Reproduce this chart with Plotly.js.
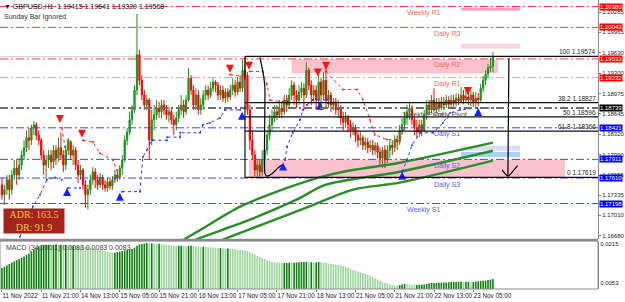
<!DOCTYPE html>
<html><head><meta charset="utf-8">
<script src="https://cdn.plot.ly/plotly-3.0.1.min.js"></script>
<style>html,body{margin:0;padding:0;background:#fff}#chart{width:625px;height:302px}</style>
</head><body><div id="chart"></div>
<script>
// ---------- DATA ----------
const tickBars = [0,16,32,48,64,80,96,112,128,144,160,176,192];
const tickLabels = ["11 Nov 2022","11 Nov 21:00","14 Nov 13:00","15 Nov 05:00","15 Nov 21:00","16 Nov 13:00","17 Nov 05:00","17 Nov 21:00","18 Nov 13:00","21 Nov 05:00","21 Nov 21:00","22 Nov 13:00","23 Nov 05:00"];

const opens = [1.1750,1.1734,1.1742,1.1758,1.1742,1.1766,1.1777,1.1766,1.1782,1.1798,
1.1810,1.1826,1.1822,1.1842,1.1847,1.1830,1.1822,1.1798,1.1782,1.1790,
1.1798,1.1787,1.1806,1.1793,1.1810,1.1798,1.1782,1.1806,1.1819,1.1798,
1.1806,1.1782,1.1766,1.1774,1.1750,1.1734,1.1742,1.1758,1.1771,1.1758,
1.1750,1.1762,1.1750,1.1745,1.1755,1.1748,1.1758,1.1766,1.1762,1.1777,
1.1790,1.1822,1.1835,1.1855,1.1871,1.1903,1.1960,1.1919,1.1895,1.1879,
1.1887,1.1822,1.1855,1.1863,1.1874,1.1868,1.1879,1.1871,1.1863,1.1868,
1.1855,1.1847,1.1858,1.1871,1.1879,1.1868,1.1887,1.1922,1.1903,1.1879,
1.1895,1.1871,1.1879,1.1895,1.1903,1.1895,1.1906,1.1916,1.1911,1.1895,
1.1903,1.1890,1.1900,1.1892,1.1903,1.1911,1.1900,1.1916,1.1906,1.1935,
1.1927,1.1871,1.1822,1.1798,1.1774,1.1782,1.1771,1.1790,1.1806,1.1830,
1.1847,1.1858,1.1868,1.1863,1.1874,1.1868,1.1887,1.1879,1.1895,1.1911,
1.1895,1.1887,1.1900,1.1906,1.1895,1.1935,1.1911,1.1895,1.1903,1.1887,
1.1916,1.1895,1.1919,1.1887,1.1895,1.1879,1.1884,1.1871,1.1874,1.1858,
1.1851,1.1858,1.1847,1.1838,1.1842,1.1830,1.1822,1.1826,1.1814,1.1819,
1.1810,1.1814,1.1806,1.1813,1.1803,1.1793,1.1806,1.1790,1.1806,1.1814,
1.1810,1.1822,1.1819,1.1838,1.1847,1.1858,1.1868,1.1874,1.1855,1.1842,
1.1835,1.1847,1.1838,1.1863,1.1879,1.1871,1.1887,1.1871,1.1882,1.1874,
1.1884,1.1879,1.1887,1.1880,1.1887,1.1882,1.1890,1.1885,1.1895,1.1887,
1.1892,1.1887,1.1895,1.1884,1.1890,1.1887,1.1906,1.1919,1.1929,1.1939,
1.19415];
const highs = [1.1762,1.1750,1.1766,1.1766,1.1774,1.1790,1.1790,1.1793,1.1806,1.1822,
1.1838,1.1842,1.1847,1.1853,1.1851,1.1838,1.1826,1.1806,1.1798,1.1806,
1.1806,1.1814,1.1814,1.1826,1.1835,1.1806,1.1814,1.1826,1.1822,1.1814,
1.1811,1.1790,1.1782,1.1777,1.1758,1.1750,1.1766,1.1779,1.1777,1.1766,
1.1769,1.1766,1.1758,1.1762,1.1762,1.1764,1.1774,1.1774,1.1782,1.1798,
1.1830,1.1842,1.1868,1.1879,1.1911,1.2026,1.1968,1.1927,1.1903,1.1895,
1.1890,1.1871,1.1879,1.1887,1.1884,1.1887,1.1887,1.1879,1.1876,1.1874,
1.1863,1.1868,1.1879,1.1895,1.1887,1.1895,1.1939,1.1927,1.1911,1.1906,
1.1903,1.1890,1.1903,1.1911,1.1910,1.1916,1.1922,1.1919,1.1916,1.1911,
1.1910,1.1906,1.1906,1.1911,1.1922,1.1919,1.1924,1.1927,1.1952,1.19574,
1.1932,1.1879,1.1838,1.1806,1.1790,1.1790,1.1806,1.1814,1.1838,1.1863,
1.1871,1.1879,1.1879,1.1887,1.1884,1.1895,1.1895,1.1906,1.1919,1.1916,
1.1903,1.1911,1.1916,1.1914,1.1948,1.1939,1.1919,1.1911,1.1911,1.1927,
1.1922,1.1932,1.1939,1.1903,1.1900,1.1890,1.1890,1.1887,1.1879,1.1868,
1.1868,1.1863,1.1855,1.1851,1.1847,1.1838,1.1835,1.1830,1.1827,1.1826,
1.1822,1.1822,1.1819,1.1818,1.1810,1.1811,1.1814,1.1814,1.1822,1.1822,
1.1830,1.1830,1.1847,1.1858,1.1868,1.1879,1.1884,1.1879,1.1863,1.1855,
1.1855,1.1855,1.1871,1.1887,1.1887,1.1895,1.1906,1.1890,1.1890,1.1892,
1.1892,1.1895,1.1893,1.1895,1.1895,1.1898,1.1897,1.1908,1.1903,1.1903,
1.1900,1.1903,1.1900,1.1900,1.1898,1.1913,1.1926,1.1935,1.1945,1.1955,
1.19641];
const lows = [1.1726,1.1718,1.1734,1.1726,1.1734,1.1758,1.1750,1.1758,1.1774,1.1790,
1.1803,1.1806,1.1814,1.1830,1.1822,1.1814,1.1790,1.1766,1.1758,1.1777,
1.1774,1.1777,1.1782,1.1787,1.1790,1.1771,1.1774,1.1798,1.1790,1.1782,
1.1774,1.1753,1.1758,1.1742,1.1713,1.1710,1.1734,1.1750,1.1745,1.1742,
1.1745,1.1742,1.1739,1.1739,1.1742,1.1742,1.1753,1.1755,1.1758,1.1766,
1.1787,1.1814,1.1830,1.1847,1.1866,1.1895,1.1911,1.1887,1.1871,1.1871,
1.1790,1.1814,1.1838,1.1855,1.1858,1.1858,1.1863,1.1855,1.1851,1.1847,
1.1830,1.1838,1.1851,1.1863,1.1858,1.1863,1.1884,1.1895,1.1871,1.1871,
1.1863,1.1863,1.1871,1.1887,1.1887,1.1890,1.1900,1.1900,1.1887,1.1887,
1.1884,1.1882,1.1884,1.1887,1.1895,1.1892,1.1895,1.1900,1.1900,1.1919,
1.1863,1.1806,1.1790,1.1764,1.17619,1.1763,1.1764,1.1774,1.1798,1.1822,
1.1838,1.1851,1.1855,1.1858,1.1858,1.1863,1.1868,1.1874,1.1887,1.1879,
1.1874,1.1879,1.1890,1.1871,1.1890,1.1903,1.1879,1.1884,1.1874,1.1880,
1.1871,1.1887,1.1874,1.1874,1.1868,1.1871,1.1863,1.1858,1.1847,1.1838,
1.1842,1.1835,1.1826,1.1830,1.1819,1.1811,1.1814,1.1806,1.1806,1.1801,
1.1803,1.1798,1.1798,1.1793,1.1782,1.1777,1.1777,1.1785,1.1793,1.1798,
1.1803,1.1806,1.1814,1.1830,1.1838,1.1847,1.1855,1.1847,1.1830,1.1826,
1.1827,1.1829,1.1835,1.1855,1.1863,1.1866,1.1868,1.1866,1.1868,1.1871,
1.1871,1.1874,1.1874,1.1876,1.1876,1.1877,1.1879,1.1882,1.1880,1.1882,
1.1879,1.1877,1.1876,1.1874,1.1877,1.1884,1.1900,1.1911,1.1922,1.1932,
1.19320];
const closes = [1.1734,1.1742,1.1758,1.1742,1.1766,1.1777,1.1766,1.1782,1.1798,1.1810,
1.1826,1.1822,1.1842,1.1847,1.1830,1.1822,1.1798,1.1782,1.1790,1.1798,
1.1787,1.1806,1.1793,1.1810,1.1798,1.1782,1.1806,1.1822,1.1798,1.1806,
1.1782,1.1766,1.1774,1.1750,1.1734,1.1742,1.1758,1.1771,1.1758,1.1750,
1.1762,1.1750,1.1745,1.1755,1.1748,1.1758,1.1766,1.1762,1.1777,1.1790,
1.1822,1.1835,1.1855,1.1871,1.1903,1.1960,1.1919,1.1895,1.1879,1.1887,
1.1822,1.1855,1.1863,1.1874,1.1868,1.1879,1.1871,1.1863,1.1868,1.1855,
1.1847,1.1858,1.1871,1.1879,1.1868,1.1887,1.1922,1.1903,1.1879,1.1895,
1.1871,1.1879,1.1895,1.1903,1.1895,1.1906,1.1916,1.1911,1.1895,1.1903,
1.1890,1.1900,1.1892,1.1903,1.1911,1.1900,1.1916,1.1906,1.1935,1.1927,
1.1871,1.1822,1.1798,1.1774,1.1782,1.1771,1.1790,1.1806,1.1830,1.1847,
1.1858,1.1868,1.1863,1.1874,1.1868,1.1887,1.1879,1.1895,1.1911,1.1895,
1.1887,1.1900,1.1906,1.1895,1.1935,1.1911,1.1895,1.1903,1.1887,1.1916,
1.1895,1.1919,1.1887,1.1895,1.1879,1.1884,1.1871,1.1874,1.1858,1.1851,
1.1858,1.1847,1.1838,1.1842,1.1830,1.1822,1.1826,1.1814,1.1819,1.1810,
1.1814,1.1806,1.1813,1.1803,1.1793,1.1806,1.1790,1.1806,1.1814,1.1810,
1.1822,1.1819,1.1838,1.1847,1.1858,1.1868,1.1874,1.1855,1.1842,1.1835,
1.1847,1.1838,1.1863,1.1879,1.1871,1.1887,1.1871,1.1882,1.1874,1.1884,
1.1879,1.1887,1.1880,1.1887,1.1882,1.1890,1.1885,1.1895,1.1887,1.1892,
1.1887,1.1895,1.1884,1.1890,1.1887,1.1906,1.1919,1.1929,1.1939,1.19415,
1.19568];

const macdHist = [0.0115,0.0120,0.0126,0.0132,0.0138,
0.0143,0.0148,0.0153,0.0158,0.0163,0.0169,
0.0176,0.0184,0.0192,0.0200,0.0205,0.0209,0.0211,
0.0212,0.0212,0.0211,0.0212,0.0213,0.0211,0.0212,0.0211,0.0211,
0.0210,0.0209,0.0209,0.0208,0.0207,0.0206,0.0205,0.0204,0.0203,
0.0200,0.0197,0.0195,0.0193,0.0190,0.0188,0.0185,0.0183,0.0180,0.0178,
0.0179,0.0181,0.0183,0.0186,0.0188,0.0190,0.0192,0.0194,
0.0200,0.0208,0.0213,0.0215,0.0217,0.0219,
0.0218,0.0218,0.0217,0.0216,0.0216,0.0215,
0.0214,0.0212,0.0211,0.0210,0.0208,0.0207,
0.0208,0.0208,0.0207,0.0206,0.0208,0.0208,0.0207,
0.0206,0.0205,0.0204,0.0204,0.0203,0.0202,0.0201,0.0200,0.0199,0.0198,0.0198,
0.0197,0.0196,0.0196,0.0195,0.0194,0.0193,0.0192,0.0191,0.0190,0.0188,0.0186,
0.0181,0.0176,0.0171,0.0166,0.0161,0.0157,0.0153,0.0149,0.0145,0.0140,
0.0139,0.0138,0.0137,0.0136,0.0136,0.0136,0.0137,0.0136,
0.0137,0.0138,0.0139,0.0140,0.0140,0.0140,0.0139,0.0139,0.0138,0.0138,
0.0140,0.0139,0.0138,0.0136,0.0134,0.0132,0.0131,0.0129,0.0128,0.0126,0.0124,
0.0120,0.0116,0.0112,0.0107,0.0104,0.0101,0.0098,0.0095,0.0091,0.0087,0.0083,0.0078,
0.0073,0.0068,0.0062,0.0057,0.0054,0.0051,0.0048,0.0045,0.0043,0.0041,
0.0044,0.0047,0.0049,0.0048,0.0047,0.0046,
0.0045,0.0045,0.0046,0.0046,0.0047,0.0049,0.0051,0.0053,
0.0053,0.0053,0.0054,0.0054,0.0055,0.0055,0.0056,0.0057,
0.0057,0.0057,0.0058,0.0058,0.0057,0.0058,0.0058,0.0056,
0.0057,0.0059,0.0060,0.0061,0.0062,0.0063,0.0065,0.0067,0.0070];

// moving averages (sampled bar, value)
const maFastBars = [74,81,97,112,129,139,162,200];
const maFast = [1.16614,1.16776,1.17147,1.17389,1.17615,1.17712,1.17857,1.18181];
const maMidBars = [79,81,101,120,132,162,200];
const maMid = [1.16610,1.16646,1.16937,1.17260,1.17502,1.17712,1.18051];
const maSlowBars = [90,92,108,125,143,162,200];
const maSlow = [1.16614,1.16646,1.16889,1.17147,1.17422,1.17535,1.17890];

// trailing stop segments
const blueSegBars = [[7.3,10.2,12.6,15.5,18.3,21.6,24.4],[26.9,31.8],
 [48.9,56.2,57.4,59,60.3,61.5,67.2,67.3,72.5,72.6,80.7,81.9,84.7,88.8,90.8,97],
 [115.3,116.1,118.5,121.4,122.6,124.2,126.7,132.4,132.8,134.4],
 [163,165,167,170.3,175.6,179.6,182.5,186.6,193.5,200]];
const blueSegVals = [[1.1666,1.1690,1.1715,1.1734,1.1758,1.1762,1.1758],[1.1745,1.1745],
 [1.1739,1.1739,1.1795,1.1806,1.1818,1.1822,1.1822,1.1827,1.1827,1.1834,1.1834,1.1847,1.1850,1.1858,1.1871,1.1871],
 [1.1790,1.1811,1.1834,1.1855,1.1871,1.1879,1.1887,1.1887,1.1882,1.1882],
 [1.1771,1.1790,1.1814,1.1834,1.1834,1.1850,1.1866,1.1871,1.1874,1.1874]];
const redSegBars = [[24.4,25.7],[33,37.1,39.9,45.2,46.8],[92.9,98.2],
 [101,106.3,108,109.2,114.5,118.1],
 [132,138.9,144.6,147,149.9,151.9,156.8,162.1,163.3],[188.6,192.7]];
const redSegVals = [[1.1842,1.1811],[1.1822,1.1819,1.1801,1.1790,1.1774],[1.1928,1.1925],
 [1.1933,1.1933,1.1912,1.1887,1.1884,1.1895],
 [1.1933,1.1904,1.1904,1.1888,1.1855,1.1831,1.1823,1.1823,1.1839],[1.1892,1.1887]];
const sellArrowBars = [23.6,32.6,92.9,100.6,128.7,132,189.8];
const sellArrowVals = [1.1850,1.1826,1.1931,1.1936,1.1925,1.1936,1.1895];
const buyArrowBars = [26.5,48,97.8,114.5,129.5,163,194];
const buyArrowVals = [1.1745,1.1737,1.1868,1.1786,1.1884,1.1771,1.1874];

// pivot levels
const levelNames = ["Weekly R1","Daily R3","Daily R2","Daily R1","Weekly Pivot","Daily S1","Daily S2","Daily S3","Weekly S1"];
const levelValues = [1.20380,1.20043,1.19533,1.19232,1.18739,1.18421,1.17911,1.17610,1.17198];
const levelKinds = ["R","R","R","R1","P","S","S","S","S"];
const levelLabelBars = [164,175,175,175,162.5,175,175,175,164];

// fibonacci
const fibPercents = ["100","38.2","50","61.8","0"];
const fibValues = [1.19574,1.18827,1.18596,1.18366,1.17619];
const fibStartBar = 99;
const bidPrice = 1.19568;

// zones [startBar, endBar, low, high]
const zones = [[118,202,1.1930,1.1953],[100.6,229.3,1.17610,1.17911],[187,211,1.2031,1.2036],[187,211,1.1970,1.1978],[187,211,1.1805,1.1813],[187,211,1.1795,1.1803]];
const zoneColors = ["#f9c2cc","#f9c2cc","#f4a3c6","#fbd6dd","#dcdcf6","#a9d0f5"];

// hand-drawn path lines
const pathBars = [105.1,106.3,107.1,107.1,107.9,110,112.4,114];
const pathVals = [1.1956,1.1932,1.1908,1.1769,1.1764,1.1768,1.1777,1.1782];
const targetBars = [206.5,206.1];
const targetVals = [1.1955,1.1764];
const checkBars = [203.7,206.1,210];
const checkVals = [1.1774,1.1764,1.1781];

const priceTicks = [1.20285,1.19965,1.19630,1.19300,1.18975,1.18645,1.18320,1.17990,1.17655,1.17335,1.17010,1.16680];
const macdTicks = [0.0215,0.0053];

// ---------- CHART ----------
const X_RANGE = [-0.8, 242.8];
const barIndex = opens.map((_, i) => i);
const traces = [];
traces.push({type:'candlestick', x:barIndex, open:opens, high:highs, low:lows, close:closes,
  xaxis:'x', yaxis:'y', whiskerwidth:0, hoverinfo:'skip',
  increasing:{line:{color:'#199319', width:1}, fillcolor:'#199319'},
  decreasing:{line:{color:'#ff0000', width:1}, fillcolor:'#ff0000'}});

[[maFastBars,maFast],[maMidBars,maMid],[maSlowBars,maSlow]].forEach(([xb,yv]) => {
  traces.push({type:'scatter', mode:'lines', x:xb, y:yv, xaxis:'x', yaxis:'y', hoverinfo:'skip',
    line:{color:'#2a8f2a', width:2.4, shape:'spline', smoothing:0.8}});
});
blueSegBars.forEach((xb, k) => traces.push({type:'scatter', mode:'lines+markers', x:xb, y:blueSegVals[k], hoverinfo:'skip',
  line:{color:'#2233ff', width:1, dash:'dot'}, marker:{size:2, color:'#2233ff'}}));
redSegBars.forEach((xb, k) => traces.push({type:'scatter', mode:'lines+markers', x:xb, y:redSegVals[k], hoverinfo:'skip',
  line:{color:'#ff2020', width:1, dash:'dot'}, marker:{size:2, color:'#ff2020'}}));
traces.push({type:'scatter', mode:'markers', x:sellArrowBars, y:sellArrowVals, hoverinfo:'skip',
  marker:{symbol:'arrow-down', size:8, color:'#ff1010', line:{width:0}}});
traces.push({type:'scatter', mode:'markers', x:buyArrowBars, y:buyArrowVals, hoverinfo:'skip',
  marker:{symbol:'arrow-up', size:8, color:'#1020ff', line:{width:0}}});
[[pathBars,pathVals],[targetBars,targetVals],[checkBars,checkVals]].forEach(([xb,yv]) =>
  traces.push({type:'scatter', mode:'lines', x:xb, y:yv, hoverinfo:'skip', line:{color:'#000', width:1.2, shape:'spline', smoothing:0.5}}));

// MACD
const macdColors = macdHist.map((v, i) => (i === 0 || v >= macdHist[i-1]) ? '#0b7f0b' : '#9bd49b');
traces.push({type:'bar', x:barIndex, y:macdHist, xaxis:'x', yaxis:'y2', hoverinfo:'skip',
  marker:{color:macdColors, line:{width:0}}});

const kindColor = {R:'#ff3b3b', R1:'rgba(255,70,70,0.55)', P:'#6e6e6e', S:'#3f46ff'};
const labelColor = {R:'#f06a5a', R1:'#f06a5a', P:'#505050', S:'#5560ff'};
const boxColor = {R:'#ff0000', R1:'#ff0000', P:'#000000', S:'#0000ff'};

const shapes = [];
zones.forEach((z, k) => shapes.push({type:'rect', xref:'x', yref:'y', x0:z[0], x1:z[1], y0:z[2], y1:z[3],
  fillcolor:zoneColors[k], line:{width:0}, layer:'below'}));
shapes.push({type:'line', xref:'paper', yref:'y', x0:0, x1:1, y0:bidPrice, y1:bidPrice, line:{color:'#c8c8c8', width:1}, layer:'below'});
levelValues.forEach((v, k) => shapes.push({type:'line', xref:'paper', yref:'y', x0:0, x1:1, y0:v, y1:v,
  line:{color:kindColor[levelKinds[k]], width: levelKinds[k]==='P' ? 2 : 1, dash:'8px,3px,2px,3px'}}));
fibValues.forEach(v => shapes.push({type:'line', xref:'x', yref:'y', x0:fibStartBar, x1:X_RANGE[1], y0:v, y1:v,
  line:{color:'#111', width:1.3}}));
shapes.push({type:'line', xref:'x', yref:'y', x0:fibStartBar, x1:fibStartBar, y0:fibValues[0], y1:fibValues[4], line:{color:'#111', width:1.2}});
// panel frames
shapes.push({type:'line', xref:'paper', yref:'paper', x0:0, x1:1, y0:0.1696, y1:0.1696, line:{color:'#8c8c8c', width:2.5}});
shapes.push({type:'rect', xref:'paper', yref:'paper', x0:0, x1:1, y0:0, y1:0.1661, line:{color:'#8c8c8c', width:1}});

const annotations = [];
const font = 'Liberation Sans, Arial, sans-serif';
levelValues.forEach((v, k) => {
  annotations.push({xref:'x', yref:'y', x:levelLabelBars[k], y:v, text:levelNames[k], showarrow:false,
    xanchor:'left', yanchor:'top', yshift:-0.5, font:{family:font, size:7, color:labelColor[levelKinds[k]]}});
  annotations.push({xref:'paper', yref:'y', x:1, y:v, text:v.toFixed(5), showarrow:false, xanchor:'left', yanchor:'middle',
    xshift:1, bgcolor:boxColor[levelKinds[k]], borderpad:0, font:{family:font, size:6, color:'#fff'}});
});
annotations.push({xref:'x', yref:'y', x:175, y:levelValues[4], text:'Daily Pivot', showarrow:false,
  xanchor:'left', yanchor:'top', yshift:-0.5, font:{family:font, size:7, color:'#505050'}});
fibValues.forEach((v, k) => annotations.push({xref:'paper', yref:'y', x:1, y:v, text:fibPercents[k] + ' ' + v.toFixed(5),
  showarrow:false, xanchor:'right', yanchor:'bottom', yshift:-1, font:{family:font, size:6.5, color:'#222'}}));
annotations.push({xref:'paper', yref:'paper', x:0.003, y:0.998, text:'▼ GBPUSD,H1  1.19415 1.19641 1.19320 1.19568',
  showarrow:false, xanchor:'left', yanchor:'top', font:{family:font, size:7, color:'#111'}});
annotations.push({xref:'paper', yref:'paper', x:0.004, y:0.962, text:'Sunday Bar Ignored',
  showarrow:false, xanchor:'left', yanchor:'top', font:{family:font, size:7, color:'#333'}});
annotations.push({xref:'paper', yref:'paper', x:0.006, y:0.163, text:'MACD (34,200,1) 0.0083 0.0083 0.0083',
  showarrow:false, xanchor:'left', yanchor:'top', font:{family:font, size:7, color:'#444'}});
annotations.push({xref:'paper', yref:'paper', x:0.005, y:0.281, text:'ADR: 163.5<br>DR: 91.9', showarrow:false,
  xanchor:'left', yanchor:'top', width:58, height:22, borderpad:1, bgcolor:'#a4231f', align:'center',
  font:{family:'Liberation Serif, serif', size:10, color:'#f3c64a'}});

const layout = {
  width:625, height:302, margin:{l:0, r:27, t:0, b:13, pad:0},
  paper_bgcolor:'#fff', plot_bgcolor:'#fff', showlegend:false, dragmode:false,
  font:{family:font, size:7, color:'#000'},
  bargap:0.35,
  xaxis:{range:X_RANGE, anchor:'y2', tickmode:'array', tickvals:tickBars, ticktext:tickLabels, tickangle:0,
    ticklabelposition:'outside right', ticks:'outside', ticklen:2, tickcolor:'#777',
    tickfont:{size:6.3, color:'#222'}, showgrid:false, zeroline:false, showline:false,
    rangeslider:{visible:false}, fixedrange:true, automargin:false},
  yaxis:{domain:[0.1730,1], range:[1.16625,1.20485], side:'right', tickmode:'array', tickvals:priceTicks,
    ticktext:priceTicks.map(v => v.toFixed(5)), ticks:'outside', ticklen:2, tickcolor:'#777',
    tickfont:{size:6, color:'#222'}, showgrid:false, zeroline:false, showline:true, linecolor:'#8c8c8c', fixedrange:true, automargin:false},
  yaxis2:{domain:[0,0.1661], range:[0.0028,0.02275], side:'right', tickmode:'array', tickvals:macdTicks,
    ticktext:macdTicks.map(v => v.toFixed(4)), ticks:'', tickfont:{size:6, color:'#222'},
    showgrid:false, zeroline:false, showline:true, linecolor:'#8c8c8c', fixedrange:true, automargin:false},
  shapes, annotations
};
Plotly.newPlot('chart', traces, layout, {staticPlot:true, displayModeBar:false});
</script></body></html>
